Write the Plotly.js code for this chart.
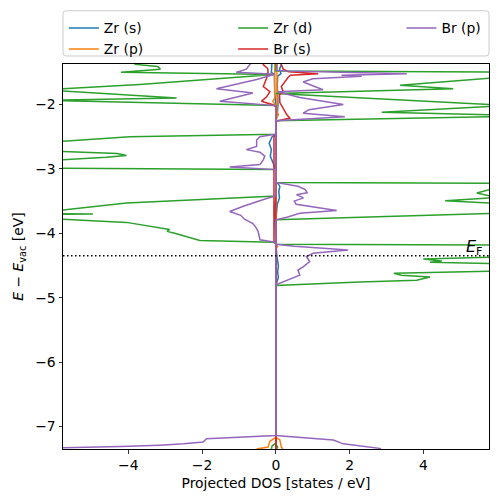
<!DOCTYPE html>
<html><head><meta charset="utf-8">
<script src="https://cdn.plot.ly/plotly-3.0.1.min.js"></script>
<style>html,body{margin:0;padding:0;background:#fff}#plot{width:498px;height:502px}</style>
</head><body><div id="plot"></div>
<script>
// ---- data (energy E - E_vac in eV, projected DOS in states/eV; spin-down plotted negative) ----
const orbitalNames = ["Zr (s)", "Zr (p)", "Zr (d)", "Br (s)", "Br (p)"];
const orbitalColors = ["#1f77b4", "#ff7f0e", "#2ca02c", "#d62728", "#9467bd"];
const fermiLevel = -4.35;
const xTicks = [-4, -2, 0, 2, 4];
const yTicks = [-7, -6, -5, -4, -3, -2];

// Zr (s)
const zrS_up_E = [-1.30,-1.38,-1.45,-1.52,-1.56,-1.70,-1.85,-2.00,-2.15,-2.26,-3.21,-3.22,-3.27,-3.35,-3.45,-3.55,-3.79,-4.17,-4.40,-4.50,-4.60,-4.68,-4.81,-7.35];
const zrS_up   = [0.12,0.15,0.10,0.14,0.05,0.04,0.05,0.06,0.04,0,0,0.05,0.11,0.08,0.10,0.04,0,0,0.04,0.07,0.05,0.07,0,0];
const zrS_dn_E = [-1.30,-1.38,-1.50,-1.53,-1.80,-2.02,-2.46,-2.50,-2.60,-2.70,-2.80,-2.90,-3.01,-3.42,-3.60,-3.80,-4.15,-7.35];
const zrS_dn   = [-0.10,-0.10,-0.12,-0.04,-0.03,0,0,-0.10,-0.18,-0.12,-0.15,-0.08,0,0,-0.04,-0.03,0,0];

// Zr (p)
const zrP_up_E = [-1.30,-1.50,-1.80,-2.10,-2.16,-2.20,-2.26,-4.17,-4.20,-4.24,-7.17,-7.21,-7.32,-7.35];
const zrP_up   = [0.03,0.03,0.04,0.03,0.07,0.03,0,0,0.05,0,0,0.11,0.15,0.19];
const zrP_dn_E = [-1.30,-1.60,-1.90,-1.95,-2.00,-2.02,-7.17,-7.20,-7.23,-7.32,-7.35];
const zrP_dn   = [-0.03,-0.03,-0.03,-0.08,-0.03,0,0,-0.07,-0.16,-0.21,-0.52];

// Zr (d)
const zrD_up_E = [-1.30,-1.48,-1.50,-1.58,-1.59,-1.70,-1.755,-1.83,-2.00,-2.01,-2.02,-2.03,-2.12,-2.16,-2.17,-2.18,-2.19,-2.25,
                  -3.21,-3.225,-3.31,-3.32,-3.375,-3.42,-3.43,-3.44,-3.45,-3.495,-3.53,-3.54,-3.68,-3.69,-3.79,
                  -4.17,-4.185,-4.36,-4.37,-4.40,-4.43,-4.45,-4.47,-4.48,-4.58,-4.59,-4.62,-4.65,-4.68,-4.73,-4.755,-4.81,
                  -7.28,-7.32,-7.35];
const zrD_up   = [0,0,8,8,5.8,3.37,4.81,0,5.8,8,8,5.8,2.87,5.8,8,8,5.8,0,
                  0,8,8,5.8,5.45,5.8,8,8,5.8,4.59,5.8,8,8,5.8,0,
                  0,8,8,5.8,4.0,4.5,4.18,5.8,8,8,5.8,3.2,3.4,4.18,3.82,2.28,0,
                  0,0.05,0.02];
const zrD_dn_E = [-1.30,-1.375,-1.41,-1.45,-1.50,-1.535,-1.69,-1.755,-1.77,-1.78,-1.79,-1.90,-1.93,-1.94,-2.016,
                  -2.46,-2.50,-2.57,-2.58,-2.72,-2.73,-2.76,-2.79,-2.82,-2.86,-2.87,-2.98,-2.99,-3.01,
                  -3.42,-3.53,-3.64,-3.65,-3.68,-3.70,-3.72,-3.77,-3.78,-3.83,-3.94,-3.97,-4.00,-4.11,-4.14,-4.16,
                  -7.26,-7.30,-7.35];
const zrD_dn   = [-3.0,-3.83,-3.2,-3.13,-4.2,-0.05,-3.69,-5.8,-8,-8,-5.8,-2.69,-5.8,-5.9,0,
                  0,-3.96,-5.8,-8,-8,-5.8,-4.3,-4.05,-4.6,-5.8,-8,-8,-5.8,0,
                  0,-4.05,-5.8,-8,-8,-4.96,-8,-8,-5.8,-4.05,-2.88,-2.95,-2.74,-2.06,-0.07,0,
                  0,-0.10,-0.12];

// Br (s)
const brS_up_E = [-1.30,-1.38,-1.45,-1.49,-1.52,-1.545,-1.58,-1.66,-1.72,-1.80,-1.85,-1.97,-2.06,-2.16,-2.21,-2.26,-7.35];
const brS_up   = [0.12,0.15,0.20,0.35,1.15,0.40,0.33,0.24,0.15,0.20,0.10,0.11,0.20,0.30,0.38,0,0];
const brS_dn_E = [-1.30,-1.38,-1.44,-1.49,-1.59,-1.66,-1.72,-1.80,-1.88,-1.95,-2.00,-2.03,-2.46,-2.50,-4.12,-4.16,-7.35];
const brS_dn   = [-0.30,-0.34,-0.22,-0.21,-0.25,-0.30,-0.34,-0.16,-0.25,-0.39,-0.10,0,0,-0.05,-0.05,0,0];

// Br (p)
const brP_up_E = [-1.30,-1.47,-1.48,-1.52,-1.545,-1.56,-1.60,-1.65,-1.77,-1.80,-1.89,-2.00,-2.08,-2.135,-2.19,-2.25,
                  -3.21,-3.22,-3.27,-3.32,-3.37,-3.40,-3.45,-3.50,-3.55,-3.645,-3.69,-3.75,-3.79,
                  -4.17,-4.20,-4.26,-4.31,-4.36,-4.44,-4.52,-4.57,-4.65,-4.73,-4.80,
                  -7.14,-7.21,-7.27,-7.30,-7.34,-7.35];
const brP_up   = [0.03,0.03,0.3,3.55,1.78,2.33,1.0,0.74,1.28,0.05,0.65,1.83,0.9,0.74,1.87,0,
                  0,0.1,0.6,0.8,0.85,0.56,0.75,0.5,0.55,1.65,0.65,0.3,0,
                  0,0.5,1.96,1.01,0.83,0.92,0.74,0.60,0.65,0.33,0,
                  0,1.56,1.83,2.3,2.82,2.85];
const brP_dn_E = [-1.30,-1.377,-1.45,-1.50,-1.53,-1.61,-1.755,-1.82,-1.95,-2.016,
                  -2.46,-2.50,-2.55,-2.65,-2.70,-2.74,-2.80,-2.86,-2.93,-2.97,-3.01,
                  -3.42,-3.46,-3.58,-3.66,-3.72,-3.78,-3.85,-3.90,-3.97,-4.05,-4.10,-4.14,
                  -7.14,-7.19,-7.24,-7.27,-7.29,-7.31,-7.33,-7.35];
const brP_dn   = [-0.6,-0.7,-0.8,-1.07,-0.03,-0.52,-1.61,-0.62,-1.52,0,
                  0,-0.43,-0.52,-0.52,-0.80,-0.43,-0.30,-0.34,-0.43,-1.25,0,
                  0,-0.25,-0.88,-1.25,-0.95,-0.85,-0.62,-0.55,-0.48,-0.45,-0.43,0,
                  0,-1.88,-1.97,-2.5,-3.15,-4.2,-5.78,-7.5];

// ---- build traces ----
const series = [
  [zrS_up_E, zrS_up, zrS_dn_E, zrS_dn, "legend"],
  [zrP_up_E, zrP_up, zrP_dn_E, zrP_dn, "legend"],
  [zrD_up_E, zrD_up, zrD_dn_E, zrD_dn, "legend2"],
  [brS_up_E, brS_up, brS_dn_E, brS_dn, "legend2"],
  [brP_up_E, brP_up, brP_dn_E, brP_dn, "legend3"]
];
const traces = [];
series.forEach((s, i) => {
  const common = {type: "scatter", mode: "lines", name: orbitalNames[i], legendgroup: orbitalNames[i],
                  legend: s[4], line: {color: orbitalColors[i], width: 1.5}, hoverinfo: "skip", cliponaxis: true};
  traces.push(Object.assign({}, common, {x: s[1], y: s[0], showlegend: true}));
  traces.push(Object.assign({}, common, {x: s[3], y: s[2], showlegend: false}));
});

const W = 426, H = 385.3;
const legendFont = {family: "DejaVu Sans", size: 13.9, color: "#000"};
const baseLegend = {orientation: "v", bgcolor: "rgba(0,0,0,0)", borderwidth: 0, font: legendFont,
                    xanchor: "left", yanchor: "top", y: 1.134, tracegroupgap: 0};

// rounded legend frame (paper coords)
const fx0 = 0, fx1 = 1, fy0 = 1.0208, fy1 = 1.1383, rx = 3 / W, ry = 3 / H;
const framePath = `M${fx0+rx},${fy1} L${fx1-rx},${fy1} Q${fx1},${fy1} ${fx1},${fy1-ry} L${fx1},${fy0+ry} Q${fx1},${fy0} ${fx1-rx},${fy0} L${fx0+rx},${fy0} Q${fx0},${fy0} ${fx0},${fy0+ry} L${fx0},${fy1-ry} Q${fx0},${fy1} ${fx0+rx},${fy1} Z`;

const layout = {
  width: 498, height: 502,
  margin: {l: 63, r: 9, t: 64, b: 53, pad: 0},
  paper_bgcolor: "#fff", plot_bgcolor: "#fff",
  font: {family: "DejaVu Sans", size: 13.9, color: "#000"},
  xaxis: {
    range: [-5.77, 5.78], tickvals: xTicks, ticks: "outside", ticklen: 3.5, tickwidth: 0.8, tickcolor: "#000",
    showline: true, linecolor: "#000", linewidth: 1, mirror: true, showgrid: false, zeroline: false,
    title: {text: "Projected DOS [states / eV]", standoff: 6, font: {size: 13.9}}
  },
  yaxis: {
    range: [-7.35, -1.37], tickvals: yTicks, ticks: "outside", ticklen: 3.5, tickwidth: 0.8, tickcolor: "#000",
    showline: true, linecolor: "#000", linewidth: 1, mirror: true, showgrid: false, zeroline: false,
    title: {text: "<i>E</i> − <i>E</i><sub>vac</sub> [eV]", standoff: 8, font: {size: 13.9}}
  },
  showlegend: true,
  legend: Object.assign({}, baseLegend, {x: 0.002}),
  legend2: Object.assign({}, baseLegend, {x: 0.3995}),
  legend3: Object.assign({}, baseLegend, {x: 0.7945}),
  shapes: [
    {type: "line", xref: "paper", x0: 0, x1: 1, yref: "y", y0: fermiLevel, y1: fermiLevel,
     line: {color: "#000", width: 1.5, dash: "1.5px,2.5px"}, layer: "above"},
    {type: "path", xref: "paper", yref: "paper", path: framePath, line: {color: "#cccccc", width: 1},
     fillcolor: "rgba(255,255,255,0.8)", layer: "below"}
  ],
  annotations: [
    {xref: "paper", x: 0.99, xanchor: "right", yref: "y", y: fermiLevel, yanchor: "bottom", yshift: -4,
     text: "<i>E</i><sub>F</sub>", showarrow: false, font: {family: "DejaVu Sans", size: 16, color: "#000"}}
  ]
};

Plotly.newPlot("plot", traces, layout, {staticPlot: true, displayModeBar: false});
</script></body></html>
